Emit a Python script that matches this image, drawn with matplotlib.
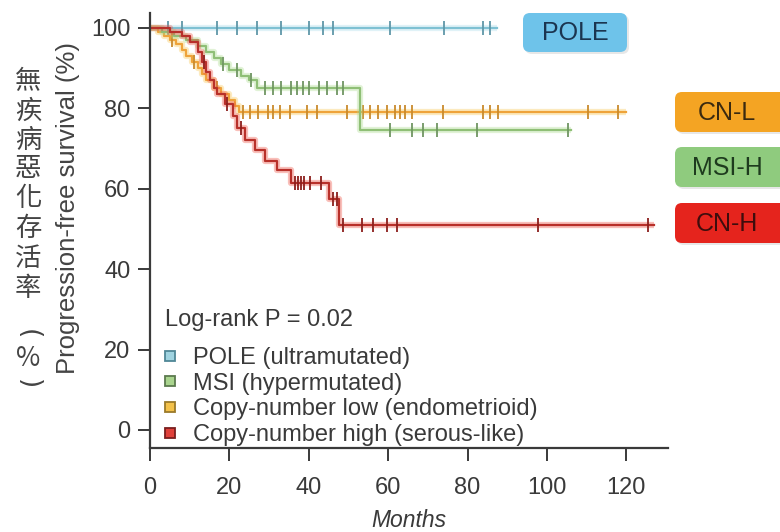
import numpy as np
import matplotlib.pyplot as plt
from matplotlib.lines import Line2D
from matplotlib.patches import FancyBboxPatch

plt.rcParams['font.family'] = ['Liberation Sans', 'DejaVu Sans']

# ---- datos (meses, % sobrevida) ----
pole_t = [0, 87.4]
pole_s = [100, 100]
pole_cens = [4.5, 8, 17, 22, 27, 33, 40, 43.5, 46, 60.5, 74, 84, 85.6]

msi_t = [0, 3, 6, 9, 12, 14, 16, 18, 20, 23, 25, 27, 53, 106]
msi_s = [100, 99, 98, 97, 95.5, 94, 92.5, 91, 89.5, 88, 87, 85, 74.5, 74.5]
msi_cens = [18.5, 22, 25.5, 29, 31, 33, 35.5, 37, 38.5, 40, 42.5, 44.5, 47, 48.5,
            60.5, 66, 68.8, 72.3, 82.4, 105.3]

cnl_t = [0, 2, 3.5, 5, 6.5, 8, 9, 10.5, 12, 13, 14, 16, 18, 20, 21.5, 22.5, 120]
cnl_s = [100, 99, 98, 97, 96, 94.5, 93, 91.5, 90, 88.5, 87, 85, 83.5, 82, 80.5, 79, 79]
cnl_cens = [5.5, 11, 17, 23.4, 25.2, 27.2, 29.7, 31, 32.7, 35.3, 39.5, 42, 49.6, 53.7,
            55.4, 57.4, 59.7, 61.7, 63, 64.2, 66, 73.8, 83.9, 85.6, 87.7, 110.3, 117.9]

cnh_t = [0, 5, 8, 10, 12, 13, 14, 15, 16, 17, 19, 21, 22, 24, 26.5, 29, 32, 35.5, 45, 47.5, 127]
cnh_s = [100, 99, 98, 96.5, 94, 91.5, 89, 87, 85, 83.5, 81, 78, 75, 72, 69.7, 67, 64.7,
         61.5, 57.5, 51, 51]
cnh_cens = [13.5, 19.5, 23, 36.5, 37.3, 38, 38.8, 40.3, 43, 46, 47, 48.6, 53.4, 56.2,
            59.7, 62.2, 97.8, 125.5]

legend_labels = ['POLE (ultramutated)', 'MSI (hypermutated)',
                 'Copy-number low (endometrioid)', 'Copy-number high (serous-like)']
box_labels = ['POLE', 'CN-L', 'MSI-H', 'CN-H']
x_ticks = [0, 20, 40, 60, 80, 100, 120]
y_ticks = [0, 20, 40, 60, 80, 100]
titulo_cn = ['無', '疾', '病', '惡', '化', '存', '活', '率', '(', '%', ')']


def valor_em(t, s, c):
    idx = np.searchsorted(t, c, side='right') - 1
    return np.asarray(s)[idx]


fig = plt.figure(figsize=(7.8, 5.32), dpi=100)
ax = fig.add_axes([150 / 780, 84 / 532, 518 / 780, 435 / 532])

# (tempos, sobrevida, censuras, cor linha, cor halo, cor marca)
grupos = [
    (pole_t, pole_s, pole_cens, '#7fc1d3', '#a8dcea', '#5f97a8'),
    (cnl_t, cnl_s, cnl_cens, '#eea33a', '#f8c34a', '#c98a2c'),
    (msi_t, msi_s, msi_cens, '#8fbf76', '#a9dc8c', '#6f9562'),
    (cnh_t, cnh_s, cnh_cens, '#b8302a', '#f04a3a', '#8c1f1c'),
]

for t, s, cens, cor, halo, marca in grupos:
    ax.step(t, s, where='post', color=halo, lw=4.5, alpha=0.35, solid_capstyle='butt')
    ax.step(t, s, where='post', color=cor, lw=1.6)
    ax.plot(cens, valor_em(t, s, cens), ls='none', marker='|', ms=10, mew=1.3, color=marca)

ax.set_xlim(0, 130.5)
ax.set_ylim(-4.5, 103.7)
ax.set_xticks(x_ticks)
ax.set_yticks(y_ticks)
for lado in ['top', 'right']:
    ax.spines[lado].set_visible(False)
for lado in ['left', 'bottom']:
    ax.spines[lado].set_linewidth(1.6)
    ax.spines[lado].set_color('#3a3a3a')
ax.tick_params(direction='out', length=9, width=1.4, color='#3a3a3a',
               labelsize=17, labelcolor='#3a3a3a')
ax.tick_params(axis='x', pad=12)
ax.tick_params(axis='y', pad=5)
ax.set_xlabel('Months', fontsize=16.5, style='italic', color='#3a3a3a', labelpad=7)

ax.text(3.8, 27.4, 'Log-rank P = 0.02', va='center', fontsize=17, color='#3a3a3a')

faces = ['#9fd3e0', '#a9d48e', '#f3c14a', '#e0403a']
edges = ['#4f8796', '#5c7a4e', '#9a7a2a', '#7a1e1e']
handles = [Line2D([], [], ls='none', marker='s', ms=7, mfc=f, mec=e, mew=1.3)
           for f, e in zip(faces, edges)]
ax.legend(handles, legend_labels, loc='lower left', bbox_to_anchor=(0.02, 0.005),
          frameon=False, fontsize=17, labelspacing=0.15, handlelength=0.8,
          handletextpad=0.6, borderpad=0, borderaxespad=0, labelcolor='#3a3a3a')

# camada em pixels para rótulos e caixas
ov = fig.add_axes([0, 0, 1, 1], zorder=5)
ov.set_xlim(0, 780)
ov.set_ylim(532, 0)
ov.axis('off')
ov.patch.set_alpha(0)

caixas = [(523, 13, 104, 39, 575), (675, 92, 115, 40, 727),
          (675, 147, 115, 40, 727), (675, 203, 115, 40, 727)]
cores_caixa = ['#6ec3ea', '#f4a423', '#8fcb7e', '#e5241d']
cores_texto = ['#1b3550', '#3b2a10', '#1e3b1e', '#3e0d0d']
for (x, y, w, h, xc), lab, fc, tc in zip(caixas, box_labels, cores_caixa, cores_texto):
    ov.add_patch(FancyBboxPatch((x + 2, y + 2), w, h, boxstyle='round,pad=0,rounding_size=7',
                                fc='#bbbbbb', ec='none', alpha=0.35))
    ov.add_patch(FancyBboxPatch((x, y), w, h, boxstyle='round,pad=0,rounding_size=7',
                                fc=fc, ec='none'))
    ov.text(xc, y + h / 2 + 1, lab, ha='center', va='center', fontsize=18, color=tc)

ov.text(68, 208, 'Progression-free survival (%)', rotation=90, ha='center', va='center',
        fontsize=18.5, color='#444444')

# texto chinês na vertical; parênteses girados como na escrita vertical
ys = [82, 111, 140, 169, 199, 228, 258, 288, 334, 359, 384]
for ch, yy in zip(titulo_cn, ys):
    if ch in '()':
        ov.text(28, yy, ch, ha='center', va='center', rotation=-90,
                fontsize=19, color='#444444', family='DejaVu Sans')
    else:
        ov.text(28, yy, ch, ha='center', va='center',
                fontsize=19, color='#444444', family=['Noto Sans CJK TC', 'DejaVu Sans'])

fig.savefig('out.png', dpi=100, facecolor='white')
